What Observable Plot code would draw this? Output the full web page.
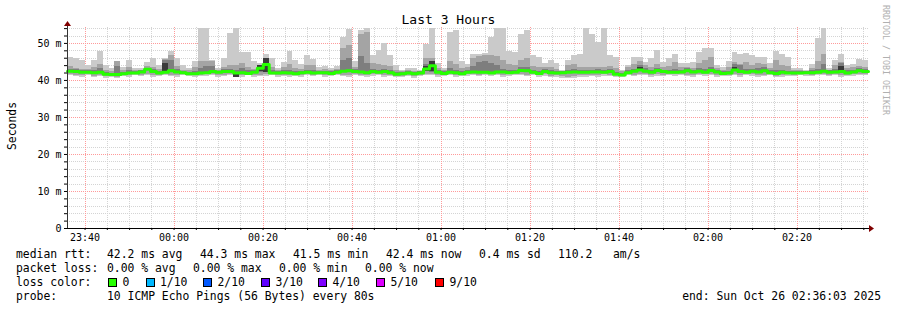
<!DOCTYPE html>
<html><head><meta charset="utf-8">
<script src="https://cdn.jsdelivr.net/npm/d3@7"></script>
<script src="https://cdn.jsdelivr.net/npm/@observablehq/plot@0.6"></script>
<style>
body{margin:0;background:#fff;}
#wrap{position:relative;width:897px;height:310px;overflow:hidden;font-family:"DejaVu Sans Mono",monospace;color:#000;background:#fff;}
#wrap svg{position:absolute;left:0;top:0;}
.t{position:absolute;white-space:pre;line-height:14px;font-size:11.4px;}
.box{position:absolute;width:7px;height:7px;border:1px solid #000;}
</style></head><body><div id="wrap"></div>
<script>
// ---- data (ms), one value per 80 s step, 135 steps ----
const rttMax = [
 46.1,45.9,45.4,43.9,45.4,47.7,44.1,43.2,45.1,43.6,
 45.4,43.2,43.2,44.9,45.9,44.0,45.9,47.9,45.9,44.0,
 43.2,45.1,54.0,54.0,45.4,43.2,45.9,52.6,54.0,47.6,
 47.6,45.0,44.5,47.1,45.9,43.2,44.9,47.8,45.3,44.2,
 46.8,45.7,43.5,43.8,43.1,43.8,51.6,53.7,45.0,53.5,
 54.0,46.8,48.0,50.1,46.7,44.0,42.8,43.1,43.1,42.8,
 49.6,54.0,44.5,43.1,53.0,53.4,45.0,44.2,47.1,47.1,
 47.4,51.6,54.0,54.0,47.8,47.6,52.5,53.4,46.7,46.2,
 44.7,45.3,44.7,42.6,45.3,46.7,46.9,54.0,52.5,50.3,
 54.0,46.7,46.2,42.6,44.0,46.2,46.2,44.9,45.9,48.0,
 44.9,45.9,47.1,44.5,44.5,44.9,47.5,48.5,48.5,44.0,
 43.5,45.0,47.6,47.1,47.3,46.7,46.2,46.2,44.5,47.8,
 47.0,46.2,43.1,43.1,42.6,44.2,51.2,54.0,43.1,45.3,
 47.1,44.0,44.2,45.7,45.5];
const rttP9 = [
 43.8,43.2,43.0,42.9,43.5,44.2,42.8,42.5,45.0,42.8,
 43.4,42.7,42.6,43.8,43.4,42.9,45.7,46.7,43.8,42.8,
 42.6,43.5,45.0,45.2,45.0,42.8,43.6,44.0,43.9,44.6,
 43.5,43.0,44.0,46.0,43.4,42.7,43.5,44.4,43.3,42.9,
 43.9,44.0,42.8,42.9,42.6,43.0,48.5,49.5,43.5,52.5,
 53.0,44.5,44.4,44.0,43.8,42.8,42.4,42.6,42.5,42.5,
 46.0,45.8,43.3,42.6,45.0,44.4,43.1,43.5,45.8,46.5,
 46.8,46.8,46.5,45.5,44.2,43.9,45.5,46.0,43.8,43.5,
 43.6,43.5,43.0,42.5,44.0,44.2,43.5,43.5,43.4,43.6,
 43.5,43.8,43.2,42.3,43.4,44.2,45.2,44.0,43.5,44.4,
 43.5,43.8,44.8,43.4,43.6,43.3,44.6,45.3,46.1,43.3,
 42.8,43.6,44.8,44.3,44.8,44.0,44.6,44.2,43.1,45.3,
 44.0,43.8,42.8,42.8,42.5,43.2,45.2,47.0,42.7,44.0,
 44.8,43.3,43.5,43.8,43.5];
const rttP8 = [
 43.0,42.9,42.7,42.6,42.7,43.2,42.2,42.0,43.8,42.2,
 42.6,42.4,42.6,43.3,42.9,42.4,45.5,45.3,42.9,42.5,
 42.2,42.5,43.2,43.8,43.8,42.5,42.9,43.0,42.6,43.2,
 42.6,42.6,44.0,46.0,42.6,42.4,42.7,42.8,42.3,42.5,
 42.8,42.7,42.5,42.5,42.3,42.6,45.5,46.0,42.9,46.5,
 44.5,43.0,42.8,43.0,42.6,42.2,42.1,42.3,42.2,42.3,
 44.2,45.0,42.7,42.3,43.2,42.8,42.3,42.8,43.8,44.8,
 45.0,44.5,44.0,43.0,42.7,42.7,43.5,43.6,42.8,42.4,
 42.9,42.6,42.5,42.4,42.8,42.9,42.7,42.7,42.8,42.9,
 42.7,43.0,42.2,41.9,42.6,43.0,44.0,43.1,42.7,43.3,
 42.8,42.7,42.9,42.8,43.1,42.8,43.2,43.0,43.6,42.7,
 42.3,42.5,44.3,44.0,42.9,43.0,43.2,43.4,42.6,42.6,
 42.8,42.5,42.4,42.4,42.5,42.6,43.0,44.4,42.6,43.0,
 44.5,42.6,42.8,43.1,42.9];
const rttMedian = [
 42.5,42.4,42.2,42.2,42.1,42.2,41.7,41.6,41.6,41.8,
 42.0,42.0,42.3,43.0,42.4,42.0,42.2,42.6,42.3,42.1,
 41.8,41.8,42.0,42.1,42.4,42.2,42.4,42.4,42.0,42.1,
 41.9,42.2,43.3,44.3,42.0,42.0,42.1,42.0,41.8,42.1,
 42.2,42.0,42.1,42.1,41.9,42.2,42.5,42.6,42.4,42.3,
 42.1,42.4,42.2,42.4,42.1,41.7,41.8,42.0,41.8,42.0,
 43.1,44.0,42.2,41.9,42.2,42.1,41.8,42.2,42.3,42.2,
 42.2,42.0,42.3,42.3,42.1,42.2,42.7,42.6,42.2,41.9,
 42.4,42.1,42.0,42.1,42.2,42.3,42.2,42.2,42.3,42.3,
 42.2,42.4,41.7,41.5,42.1,42.5,42.8,42.5,42.2,42.7,
 42.4,42.2,42.2,42.3,42.6,42.3,42.5,42.2,42.7,42.3,
 41.9,42.0,42.8,42.4,42.2,42.5,42.3,42.6,42.1,41.9,
 42.2,42.0,42.0,42.0,42.1,42.1,42.2,42.5,42.2,42.3,
 42.4,42.0,42.3,42.6,42.4];
const rttP3 = [
 42.1,42.0,41.8,41.8,41.7,41.8,41.3,41.2,41.2,41.4,
 41.6,41.6,41.9,42.6,42.0,41.6,41.8,42.2,41.9,41.7,
 41.4,41.4,41.6,41.7,42.0,41.8,42.0,42.0,40.8,41.7,
 41.5,41.8,42.2,42.2,41.6,41.6,41.7,41.6,41.4,41.7,
 41.8,41.6,41.7,41.7,41.5,41.8,42.1,42.2,42.0,41.9,
 41.7,42.0,41.8,42.0,41.7,41.3,41.4,41.6,41.4,41.6,
 42.4,42.2,41.8,41.5,41.8,41.7,41.4,41.8,41.9,41.8,
 41.8,41.6,41.9,41.9,41.7,41.8,42.3,42.2,41.8,41.5,
 42.0,41.7,41.6,41.7,41.8,41.9,41.8,41.8,41.9,41.9,
 41.8,42.0,41.3,41.1,41.7,42.1,42.4,42.1,41.8,42.3,
 42.0,41.8,41.8,41.9,42.2,41.9,42.1,41.8,42.3,41.9,
 41.5,41.6,42.4,42.0,41.8,42.1,41.9,42.2,41.7,41.5,
 41.8,41.6,41.6,41.6,41.7,41.7,41.8,42.1,41.8,41.9,
 42.0,41.6,41.9,42.2,42.0];
const rttP2 = [
 41.7,41.4,41.3,41.6,41.1,41.4,41.0,41.2,40.9,41.4,
 41.3,41.6,41.4,41.7,41.2,41.4,41.6,41.4,41.3,41.7,
 41.4,41.2,41.4,41.5,41.6,41.3,41.4,41.6,41.7,41.2,
 41.6,41.2,41.4,41.5,41.6,41.3,41.4,41.2,41.5,41.2,
 41.6,41.4,41.7,41.3,41.4,41.6,41.4,41.2,41.6,41.4,
 41.2,41.5,41.6,41.3,41.4,41.1,41.1,41.4,41.0,41.4,
 41.6,41.7,41.3,41.4,41.6,41.3,41.4,41.5,41.7,41.4,
 41.6,41.5,41.6,41.3,41.5,41.7,41.6,41.4,41.6,41.2,
 41.5,41.1,41.3,41.0,40.9,41.0,41.2,41.3,41.4,41.2,
 41.5,41.4,41.3,41.1,41.6,41.4,41.7,41.6,41.3,41.5,
 41.4,41.7,41.5,41.6,41.4,41.3,41.7,41.5,41.6,41.2,
 41.4,41.4,41.6,41.3,41.7,41.5,41.2,41.4,41.6,41.1,
 41.3,41.5,41.4,41.6,41.5,41.4,41.6,41.7,41.4,41.6,
 41.3,41.4,41.5,41.7,41.6];
const rttMin = [
 41.3,41.0,40.9,41.2,40.7,41.0,40.6,40.8,40.5,41.0,
 40.9,41.2,41.0,41.3,40.8,41.0,41.2,41.0,40.9,41.3,
 41.0,40.8,41.0,41.1,41.2,40.9,41.0,41.2,41.3,40.8,
 41.2,40.8,41.0,41.1,41.2,40.9,41.0,40.8,41.1,40.8,
 41.2,41.0,41.3,40.9,41.0,41.2,41.0,40.8,41.2,41.0,
 40.8,41.1,41.2,40.9,41.0,40.7,40.7,41.0,40.6,41.0,
 41.2,41.3,40.9,41.0,41.2,40.9,41.0,41.1,41.3,41.0,
 41.2,41.1,41.2,40.9,41.1,41.3,41.2,41.0,41.2,40.8,
 41.1,40.7,40.9,40.6,40.5,40.6,40.8,40.9,41.0,40.8,
 41.1,41.0,40.9,40.7,41.2,41.0,41.3,41.2,40.9,41.1,
 41.0,41.3,41.1,41.2,41.0,40.9,41.3,41.1,41.2,40.8,
 41.0,41.0,41.2,40.9,41.3,41.1,40.8,41.0,41.2,40.7,
 40.9,41.1,41.0,41.2,41.1,41.0,41.2,41.3,41.0,41.2,
 40.9,41.0,41.1,41.3,41.2];
// darkest smoke core, only where visible
const coreIdx = [16, 28, 32, 33, 60, 61, 96, 112, 130];
const coreLo  = [42.3, 40.8, 42.3, 42.2, 42.5, 42.3, 42.4, 42.4, 42.3];
const coreHi  = [44.5, 41.9, 43.9, 46.0, 43.8, 45.0, 43.4, 43.6, 43.8];

const yTickValues = [0, 10, 20, 30, 40, 50];
const yTickLabels = ["0", "10 m", "20 m", "30 m", "40 m", "50 m"];
const xTickLabels = ["23:40","00:00","00:20","00:40","01:00","01:20","01:40","02:00","02:20"];
const lossLabels = ["0", "1/10", "2/10", "3/10", "4/10", "5/10", "9/10"];
const lossColors = ["#26ff00", "#00b8ff", "#0059ff", "#5e00ff", "#7e00ff", "#dd00ff", "#ff0000"];
const rttStats = ["42.2 ms avg", "44.3 ms max", "41.5 ms min", "42.4 ms now", "0.4 ms sd", "110.2", "am/s"];
const lossStats = ["0.00 % avg", "0.00 % max", "0.00 % min", "0.00 % now"];
const probeText = "10 ICMP Echo Pings (56 Bytes) every 80s";
const endText = "end: Sun Oct 26 02:36:03 2025";
const titleText = "Last 3 Hours";

// ---- build ----
const STEP = 80000;
const t0 = Date.UTC(2025, 9, 25, 23, 36, 3);
const tStart = new Date(t0), tEnd = new Date(t0 + rttMax.length * STEP);
const rows = rttMax.map((v, i) => ({
  t1: new Date(t0 + i * STEP), t2: new Date(t0 + (i + 1) * STEP),
  min: rttMin[i], p2: rttP2[i], p3: rttP3[i], med: rttMedian[i], p8: rttP8[i], p9: rttP9[i], max: v
}));
const core = coreIdx.map((k, j) => ({t1: rows[k].t1, t2: rows[k].t2, lo: coreLo[j], hi: coreHi[j]}));
const medPts = rows.map(r => ({t: r.t1, v: r.med}));
medPts.push({t: tEnd, v: rows[rows.length - 1].med});

const minorX = d3.utcMinute.every(5).range(tStart, tEnd);
const majorX = minorX.filter(d => d.getUTCMinutes() % 20 === 0);
const yTop = 54.3;
const minorY = d3.range(2, yTop, 2).filter(v => v % 10 !== 0);
const majorY = yTickValues.filter(v => v > 0);
const fmt = d3.utcFormat("%H:%M");

const dash = {strokeDasharray: "1,1", shapeRendering: "crispEdges"};
const plot = Plot.plot({
  width: 897, height: 250,
  marginLeft: 67, marginRight: 29, marginTop: 27, marginBottom: 22,
  style: {fontFamily: "DejaVu Sans Mono", fontSize: "10px", background: "transparent", color: "#000"},
  x: {type: "utc", domain: [tStart, tEnd], label: null},
  y: {domain: [0, yTop], label: null},
  marks: [
    Plot.ruleY(minorY, {stroke: "#d4d4d4", ...dash}),
    Plot.ruleX(minorX.filter(d => d.getUTCMinutes() % 20 !== 0), {stroke: "#d4d4d4", ...dash}),
    Plot.ruleY(majorY, {stroke: "#ff9a9a", ...dash}),
    Plot.ruleX(majorX, {stroke: "#ff9a9a", ...dash}),
    Plot.rect(rows, {x1: "t1", x2: "t2", y1: "min", y2: "max", fill: "#cacaca", shapeRendering: "crispEdges"}),
    Plot.rect(rows, {x1: "t1", x2: "t2", y1: "p2", y2: "p9", fill: "#a4a4a4", shapeRendering: "crispEdges"}),
    Plot.rect(rows, {x1: "t1", x2: "t2", y1: "p3", y2: "p8", fill: "#7e7e7e", shapeRendering: "crispEdges"}),
    Plot.rect(core, {x1: "t1", x2: "t2", y1: "lo", y2: "hi", fill: "#3a3a3a", shapeRendering: "crispEdges"}),
    Plot.line(medPts, {x: "t", y: "v", curve: "step-after", stroke: "#26ff00", strokeWidth: 3}),
    Plot.ruleY([0], {stroke: "#000", shapeRendering: "crispEdges"}),
    Plot.ruleX([tStart], {stroke: "#333", shapeRendering: "crispEdges"}),
    Plot.axisY({ticks: d3.range(0, yTop, 2), tickSize: 3, tickPadding: 3,
      tickFormat: d => { const i = yTickValues.indexOf(d); return i >= 0 ? yTickLabels[i] : ""; }}),
    Plot.axisX({ticks: minorX, tickSize: 2, tickPadding: 3,
      tickFormat: d => { const s = fmt(d); return xTickLabels.includes(s) ? s : ""; }})
  ]
});
const wrap = document.getElementById("wrap");
wrap.appendChild(plot);

// arrows at axis ends (positions from the scales)
const sx = plot.scale("x"), sy = plot.scale("y");
const svg = d3.select(plot);
const ax = sx.apply(tEnd), ay = sy.apply(0);
svg.append("line").attr("x1", ax).attr("x2", ax + 2).attr("y1", ay + 0.5).attr("y2", ay + 0.5).attr("stroke", "#000");
svg.append("polygon").attr("points", `${ax + 1},${ay - 3} ${ax + 6},${ay + 0.5} ${ax + 1},${ay + 4}`).attr("fill", "#800000");
const vx = sx.apply(tStart), vt = sy.apply(yTop);
svg.append("line").attr("x1", vx + 0.5).attr("x2", vx + 0.5).attr("y1", vt).attr("y2", vt - 2).attr("stroke", "#333");
svg.append("polygon").attr("points", `${vx - 3},${vt - 1} ${vx + 0.5},${vt - 6} ${vx + 4},${vt - 1}`).attr("fill", "#800000");

// ---- texts ----
function txt(s, left, cy, extra) {
  const d = document.createElement("div");
  d.className = "t"; d.textContent = s;
  d.style.left = left + "px"; d.style.top = (cy - 7) + "px";
  if (extra) Object.assign(d.style, extra);
  wrap.appendChild(d); return d;
}
const title = txt(titleText, 0, 20, {width: "897px", textAlign: "center", fontSize: "13px", left: "0px"});
const ylab = txt("Seconds", 0, 0, {fontSize: "11.4px", left: "-14px", top: "119px", width: "52px", textAlign: "center", transform: "rotate(-90deg)"});
txt("RRDTOOL / TOBI OETIKER", 0, 0, {fontSize: "8.3px", color: "#b0b0b0", left: "830px", top: "55px", width: "112px", textAlign: "center", transform: "rotate(90deg)", lineHeight: "10px"});

const rttX = [107, 200, 293, 386, 479, 558, 613];
txt("median rtt:", 16, 254);
rttStats.forEach((s, i) => txt(s, rttX[i], 254));
const lossX = [107, 193, 279, 365];
txt("packet loss:", 16, 268);
lossStats.forEach((s, i) => txt(s, lossX[i], 268));
txt("loss color:", 16, 282);
const boxX = [108, 145.5, 203, 261, 318, 376, 435];
lossLabels.forEach((s, i) => {
  const b = document.createElement("div");
  b.className = "box"; b.style.left = boxX[i] + "px"; b.style.top = "278px"; b.style.background = lossColors[i];
  wrap.appendChild(b);
  txt(s, boxX[i] + 14.5, 282);
});
txt("probe:", 16, 296);
txt(probeText, 107, 296);
txt(endText, 0, 296, {left: "auto", right: "16px"});
</script></body></html>
